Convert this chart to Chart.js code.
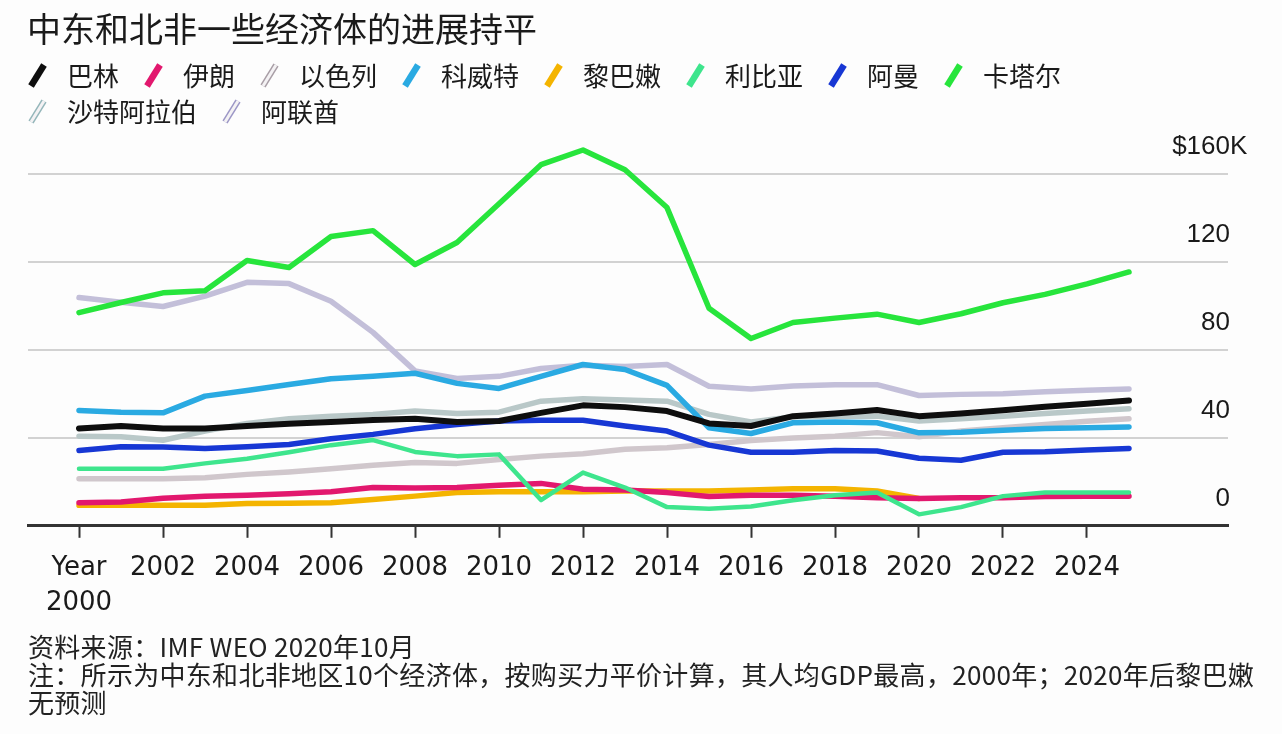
<!DOCTYPE html>
<html><head><meta charset="utf-8">
<script src="https://cdn.jsdelivr.net/npm/chart.js@4/dist/chart.umd.min.js"></script>
<style>
html,body{margin:0;padding:0;background:#fdfdfd;}
#wrap{position:relative;width:1282px;height:734px;overflow:hidden;font-family:"Noto Sans CJK SC","Noto Sans",sans-serif;color:#1a1a1a;}
#c{position:absolute;left:0;top:0;}
#title{position:absolute;left:27px;top:6px;font-size:34px;line-height:44px;white-space:nowrap;}
#legend{position:absolute;left:28px;top:57px;width:1250px;font-size:26px;line-height:36px;}
.row{display:flex;align-items:center;}
.item{display:flex;align-items:center;margin-right:25px;white-space:nowrap;}
.item svg{margin-right:19px;}
#note{position:absolute;left:28px;top:632px;font-size:26px;line-height:28px;white-space:nowrap;color:#222;letter-spacing:0.3px;}
</style>
</head><body>
<div id="wrap">
<canvas id="c" width="1282" height="734"></canvas>
<div id="title"></div>
<div id="legend"></div>
<div id="note"></div>
</div>
<script>
// ---------- data ----------
const titleText = '中东和北非一些经济体的进展持平';
const noteLines = ['资料来源：IMF WEO 2020年10月', '注：所示为中东和北非地区10个经济体，按购买力平价计算，其人均GDP最高，2000年；2020年后黎巴嫩', '无预测'];
const years = [2000,2001,2002,2003,2004,2005,2006,2007,2008,2009,2010,2011,2012,2013,2014,2015,2016,2017,2018,2019,2020,2021,2022,2023,2024,2025];
const xTicks = [2000,2002,2004,2006,2008,2010,2012,2014,2016,2018,2020,2022,2024];
const firstXTickLabel = ['Year','2000'];
const yTicks = [0,40,80,120,160];
const yTickLabels = ['0','40','80','120','$160K'];
const countries = ['巴林','伊朗','以色列','科威特','黎巴嫩','利比亚','阿曼','卡塔尔','沙特阿拉伯','阿联酋'];
const bahrain = [44.3,45.4,44.3,44.3,45.4,46.4,47.2,48.1,48.7,47.2,47.7,51.4,54.8,54.0,52.2,46.6,45.4,49.9,51.1,52.7,49.9,51.1,52.6,54.2,55.5,57.0];
const iran    = [10.5,10.8,12.5,13.5,13.9,14.6,15.5,17.4,17.2,17.4,18.4,19.3,16.6,16.3,15.1,13.3,13.9,13.9,13.5,12.8,12.4,12.8,12.8,13.3,13.5,13.5];
const israel  = [21.4,21.4,21.4,21.9,23.4,24.5,26.0,27.5,28.8,28.4,30.2,31.7,32.8,34.8,35.5,37.0,38.8,40.0,40.8,42.4,40.5,43.1,44.6,46.1,47.6,48.7];
const kuwait  = [52.5,51.7,51.4,59.0,61.6,64.3,66.9,68.1,69.4,64.8,62.5,68.0,73.4,71.1,63.9,44.6,42.0,46.9,47.2,46.9,42.3,42.6,43.5,44.3,44.6,45.0];
const lebanon = [9.3,9.4,9.4,9.4,10.1,10.3,10.5,12.0,13.5,15.1,15.5,15.5,15.5,15.8,15.8,15.8,16.3,16.9,16.9,15.8,12.4,null,null,null,null,null];
const libya   = [26.0,26.0,26.0,28.4,30.5,33.5,36.7,39.0,33.6,31.7,32.5,11.7,24.2,17.4,8.5,7.8,8.8,11.6,13.9,15.1,5.2,8.5,13.5,15.1,15.1,15.1];
const oman    = [34.3,36.0,35.8,35.2,36.0,37.0,39.6,41.6,44.2,46.1,47.7,48.0,48.0,45.4,43.1,36.7,33.5,33.5,34.3,34.0,30.7,29.8,33.5,33.7,34.5,35.2];
const qatar   = [97.0,101.6,106.0,107.0,120.7,117.5,131.6,134.3,118.9,128.9,146.5,164.3,171.0,162.0,144.8,99.0,85.2,92.5,94.5,96.3,92.5,96.5,101.5,105.3,110.1,115.5];
const saudi   = [40.8,40.5,38.9,43.1,46.6,48.7,49.9,50.7,52.2,51.1,51.7,56.7,57.8,57.2,56.7,50.7,47.2,49.6,49.9,49.9,47.7,48.7,49.9,51.1,52.2,53.3];
const uae     = [103.9,101.7,99.8,104.5,110.8,110.2,102.2,88.0,70.5,67.0,68.0,71.6,73.0,72.5,73.4,63.5,62.2,63.6,64.2,64.2,59.3,59.8,60.1,61.0,61.7,62.3];
const seriesValues = [bahrain, iran, israel, kuwait, lebanon, libya, oman, qatar, saudi, uae];

// ---------- styles ----------
const colors  = ['#0e0e0e','#e2186e','#d0c7cc','#2aaae2','#f4b400','#3ee58d','#1737d4','#27e53c','#b9c8c8','#c3bfd9'];
const outline = [null,null,'#a89ea6',null,null,null,null,null,'#94b6ba','#9c97c6'];
const widths  = [6,5.5,5.5,5.5,5.5,4.5,5.5,5.5,5.5,5.5];
const drawOrder = [3,6,9,4,7,2,5,1,8,10];
const legendBreakAfter = 7;

// ---------- title / legend / note ----------
document.getElementById('title').textContent = titleText;
const legend = document.getElementById('legend');
let row = document.createElement('div'); row.className = 'row'; legend.appendChild(row);
countries.forEach((name, i) => {
  const it = document.createElement('div'); it.className = 'item';
  const ns = 'http://www.w3.org/2000/svg';
  const svg = document.createElementNS(ns,'svg'); svg.setAttribute('width','20'); svg.setAttribute('height','26');
  const mk = (col, w) => { const l = document.createElementNS(ns,'line'); l.setAttribute('x1','3'); l.setAttribute('y1','24'); l.setAttribute('x2','16'); l.setAttribute('y2','3'); l.setAttribute('stroke',col); l.setAttribute('stroke-width',w); svg.appendChild(l); };
  if (outline[i]) { mk(outline[i], 6); mk('#f4f2f4', 3); } else { mk(colors[i], 6.5); }
  it.appendChild(svg);
  const t = document.createElement('span'); t.textContent = name; it.appendChild(t);
  row.appendChild(it);
  if (i === legendBreakAfter) { row = document.createElement('div'); row.className = 'row'; legend.appendChild(row); }
});
const note = document.getElementById('note');
noteLines.forEach(l => { const d = document.createElement('div'); d.textContent = l; note.appendChild(d); });

// ---------- chart ----------
const yLabelPlugin = {
  id: 'yLabels',
  afterDraw(chart) {
    const {ctx, chartArea} = chart; const y = chart.scales.y;
    ctx.save();
    ctx.font = '26px "Liberation Sans", Arial, sans-serif';
    ctx.fillStyle = '#1a1a1a';
    ctx.textBaseline = 'middle';
    const xr = chartArea.right + 2;
    yTicks.forEach((v, i) => {
      const py = y.getPixelForValue(v) - 27;
      let lab = yTickLabels[i];
      let pre = '', suf = '';
      if (lab.startsWith('$')) { pre = '$'; lab = lab.slice(1); }
      if (lab.endsWith('K')) { suf = 'K'; lab = lab.slice(0, -1); }
      ctx.textAlign = 'right';
      ctx.fillText(lab, xr, py);
      if (pre) ctx.fillText(pre, xr - ctx.measureText(lab).width, py);
      if (suf) { ctx.textAlign = 'left'; ctx.fillText(suf, xr, py); }
    });
    ctx.restore();
  }
};

const datasets = countries.map((name, i) => ({
  label: name,
  data: years.map((yr, j) => ({x: yr, y: seriesValues[i][j]})),
  borderColor: colors[i],
  borderWidth: widths[i],
  pointRadius: 0,
  tension: 0,
  fill: false,
  spanGaps: false,
  borderJoinStyle: 'round',
  borderCapStyle: 'round',
  order: drawOrder[i]
}));

new Chart(document.getElementById('c'), {
  type: 'line',
  data: { datasets },
  options: {
    responsive: false,
    animation: false,
    layout: { padding: { left: 28, right: 54, top: 139, bottom: 101 } },
    plugins: { legend: { display: false }, tooltip: { enabled: false }, title: { display: false } },
    scales: {
      x: {
        type: 'linear',
        min: 2000 - 51/42,
        max: 2000 - 51/42 + 1200/42,
        afterBuildTicks: s => { s.ticks = xTicks.map(v => ({value: v})); },
        grid: { display: true, drawOnChartArea: false, drawTicks: true, tickLength: 12, tickColor: '#333', tickWidth: 2 },
        border: { display: true, color: '#333', width: 3 },
        ticks: {
          autoSkip: false, maxRotation: 0, padding: 12.5,
          color: '#1a1a1a',
          font: { family: '"DejaVu Sans", sans-serif', size: 26, lineHeight: 1.35 },
          callback: (v) => v === xTicks[0] ? firstXTickLabel : String(v)
        }
      },
      y: {
        position: 'right',
        min: 0, max: 176,
        afterBuildTicks: s => { s.ticks = yTicks.map(v => ({value: v})); },
        grid: { color: '#d2d2d2', lineWidth: 2, drawTicks: false },
        border: { display: false },
        ticks: { display: false }
      }
    }
  },
  plugins: [yLabelPlugin]
});
</script>
</body></html>
